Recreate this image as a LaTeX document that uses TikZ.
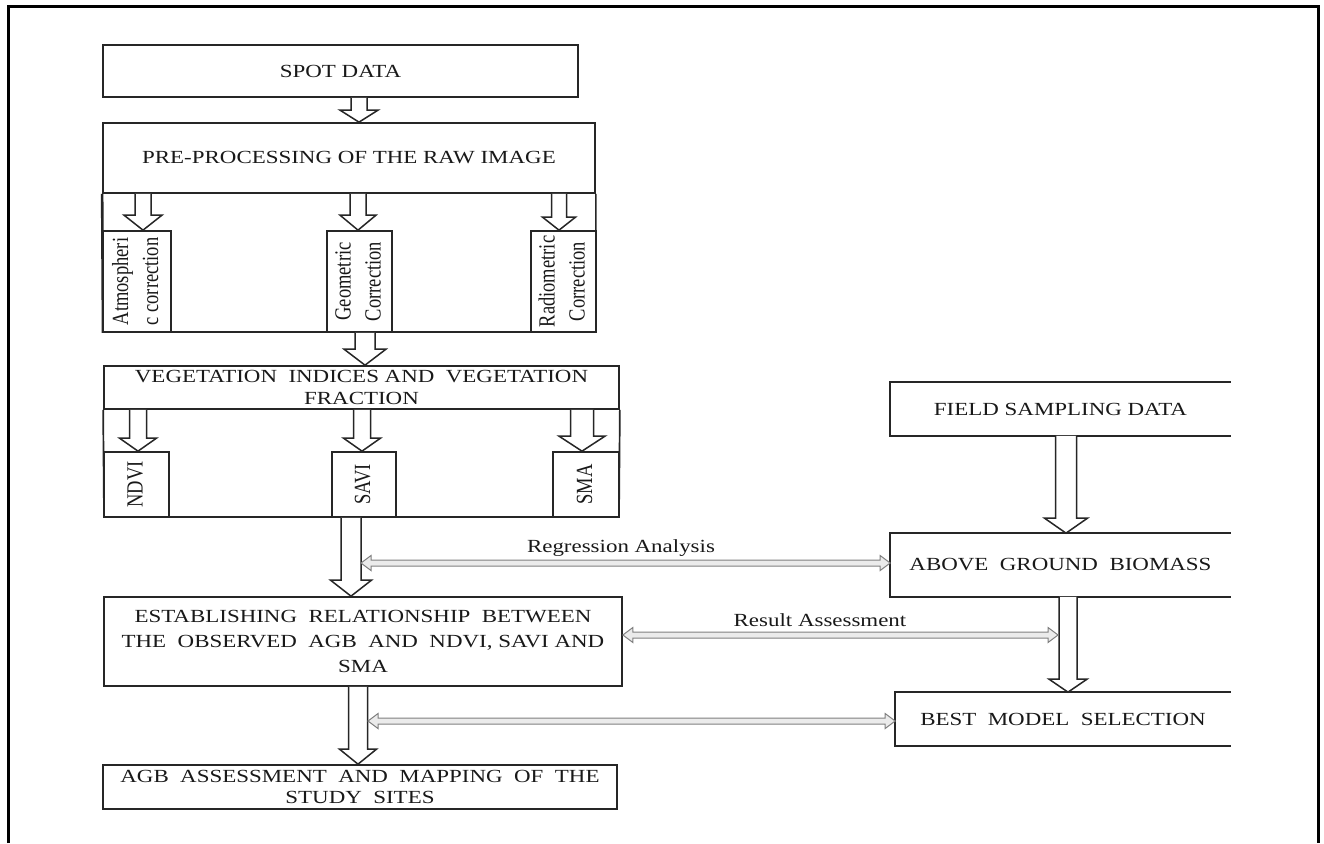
\documentclass[tikz,border=0pt]{standalone}
\usepackage{fontspec}
\setmainfont{Liberation Serif}
\newfontfamily\wfont[FakeStretch=1.24]{Liberation Serif}
\usetikzlibrary{calc}
\tikzset{
  box/.style={draw=black!85, line width=1.7pt, fill=white, inner sep=0pt, align=center,
    font=\wfont\fontsize{18.5}{22}\selectfont, text=black!90},
  openbox/.style={box, draw=none},
  boxline/.style={draw=black!85, line width=1.7pt},
  rotbox/.style={box, font=\rmfamily\fontsize{18.5}{24}\selectfont},
  blockarrow/.style={draw=black!85, line width=1.5pt, fill=white, line join=miter},
  thinarrow/.style={draw=black!50, line width=1pt, fill=black!8, line join=miter},
  lbl/.style={font=\wfont\fontsize{18.5}{22}\selectfont, text=black!90, inner sep=0pt},
  frameline/.style={line width=3pt, black},
}
% vertical block arrow: from node anchor #1 to node anchor #2 at x=#3
% shaft width #4, head width #5, head length #6
\newcommand{\vblock}[6]{%
  \draw[blockarrow] let \p1=(#1), \p2=(#2) in
    ({(#3-#4/2)*1pt},\y1) -- ({(#3-#4/2)*1pt},\y2+#6pt) -- ({(#3-#5/2)*1pt},\y2+#6pt)
    -- ({#3*1pt},\y2) -- ({(#3+#5/2)*1pt},\y2+#6pt) -- ({(#3+#4/2)*1pt},\y2+#6pt)
    -- ({(#3+#4/2)*1pt},\y1);}
% thin hollow double-headed arrow between two points on one level
\newcommand{\hdouble}[2]{%
  \draw[thinarrow] let \p1=(#1), \p2=(#2) in
    (\x1,\y1) -- (\x1+10pt,\y1+7.5pt) -- (\x1+10pt,\y1+3pt) -- (\x2-10pt,\y1+3pt)
    -- (\x2-10pt,\y1+7.5pt) -- (\x2,\y1) -- (\x2-10pt,\y1-7.5pt) -- (\x2-10pt,\y1-3pt)
    -- (\x1+10pt,\y1-3pt) -- (\x1+10pt,\y1-7.5pt) -- cycle;}
\newcommand{\rtext}[1]{\scalebox{1.25}[1]{\rotatebox{90}{\begin{tabular}{@{}c@{}}#1\end{tabular}}}}

\begin{document}
\begin{tikzpicture}[x=1pt,y=-1pt]
\useasboundingbox (0,0) rectangle (1324,843);
\fill[white] (0,0) rectangle (1324,843);
\draw[frameline] (8,843) -- (8,7) -- (1318,7) -- (1318,843);

% left column
\node[box, minimum width=475pt, minimum height=52pt] (spot) at (340.5,71) {SPOT DATA};
\node[box, minimum width=492pt, minimum height=70pt] (pre) at (349,158) {PRE-PROCESSING OF THE RAW IMAGE};
\draw[boxline] (pre.south east) -- (596,332) -- (103,332);
\draw[boxline, line width=2.6pt] (pre.south west) -- (103,332.8);

\node[rotbox, minimum width=68pt, minimum height=101pt] (atm) at (137,281.5) {\rtext{Atmospheri\\c correction}};
\node[rotbox, minimum width=65pt, minimum height=101pt] (geo) at (359.5,281.5) {\rtext{Geometric\\Correction}};
\node[rotbox, minimum width=65pt, minimum height=101pt] (rad) at (563.5,281.5) {\rtext{Radiometric\\Correction}};

\node[box, minimum width=515pt, minimum height=43pt] (veg) at (361.5,387.5) {VEGETATION\ \ INDICES\ AND\ \ VEGETATION\\FRACTION};
\draw[boxline] (veg.south west) -- (104,517) -- (619,517) -- (veg.south east);
\node[rotbox, minimum width=65pt, minimum height=65pt] (ndvi) at (136.5,484.5) {\rtext{NDVI}};
\node[rotbox, minimum width=64pt, minimum height=65pt] (savi) at (364,484.5) {\rtext{SAVI}};
\node[rotbox, minimum width=66pt, minimum height=65pt] (sma) at (586,484.5) {\rtext{SMA}};

\node[box, minimum width=518pt, minimum height=89pt, font=\wfont\fontsize{18.5}{25}\selectfont] (est) at (363,641.5)
  {ESTABLISHING\ \ RELATIONSHIP\ \ BETWEEN\\THE\ \ OBSERVED\ \ AGB\ \ AND\ \ NDVI,\ SAVI\ AND\\SMA};
\node[box, minimum width=514pt, minimum height=44pt, font=\wfont\fontsize{18.5}{21}\selectfont] (agb) at (360,787)
  {AGB\ \ ASSESSMENT\ \ AND\ \ MAPPING\ \ OF\ \ THE\\STUDY\ \ SITES};

% right column (open on the right)
\node[openbox, minimum width=339pt, minimum height=52pt] (field) at (1060.5,409) {FIELD SAMPLING DATA};
\draw[boxline] (field.north east) -- (field.north west) -- (field.south west) -- (field.south east);
\node[openbox, minimum width=339pt, minimum height=62pt] (above) at (1060.5,565) {ABOVE\ \ GROUND\ \ BIOMASS};
\draw[boxline] (above.north east) -- (above.north west) -- (above.south west) -- (above.south east);
\node[openbox, minimum width=334pt, minimum height=52pt] (best) at (1063,719) {BEST\ \ MODEL\ \ SELECTION};
\draw[boxline] (best.north east) -- (best.north west) -- (best.south west) -- (best.south east);

% block arrows
\vblock{spot.south}{pre.north}{359}{16}{38}{12}
\vblock{pre.south}{atm.north}{143}{16}{38}{15}
\vblock{pre.south}{geo.north}{358}{16}{36}{15}
\vblock{pre.south}{rad.north}{559}{15}{33}{13}
\vblock{geo.south}{veg.north}{365}{20}{42}{16}
\vblock{veg.south}{ndvi.north}{138}{17}{37}{13}
\vblock{veg.south}{savi.north}{362}{17}{37}{13}
\vblock{veg.south}{sma.north}{582}{23}{46}{15}
\vblock{savi.south}{est.north}{351}{20}{41}{16}
\vblock{est.south}{agb.north}{358}{19}{37}{15}
\vblock{field.south}{above.north}{1066}{21}{43}{15}
\vblock{above.south}{best.north}{1068}{18}{38}{13}

% thin double arrows
\coordinate (regL) at (361,563);
\coordinate (regR) at (above.west |- regL);
\hdouble{regL}{regR}
\coordinate (resR) at (1058,635);
\coordinate (resL) at (est.east |- resR);
\hdouble{resL}{resR}
\coordinate (selL) at (368,721);
\coordinate (selR) at (best.west |- selL);
\hdouble{selL}{selR}

\node[lbl] (reglbl) at (621,548) {Regression Analysis};
\node[lbl] (reslbl) at (820,620) {Result Assessment};
\end{tikzpicture}
\end{document}
